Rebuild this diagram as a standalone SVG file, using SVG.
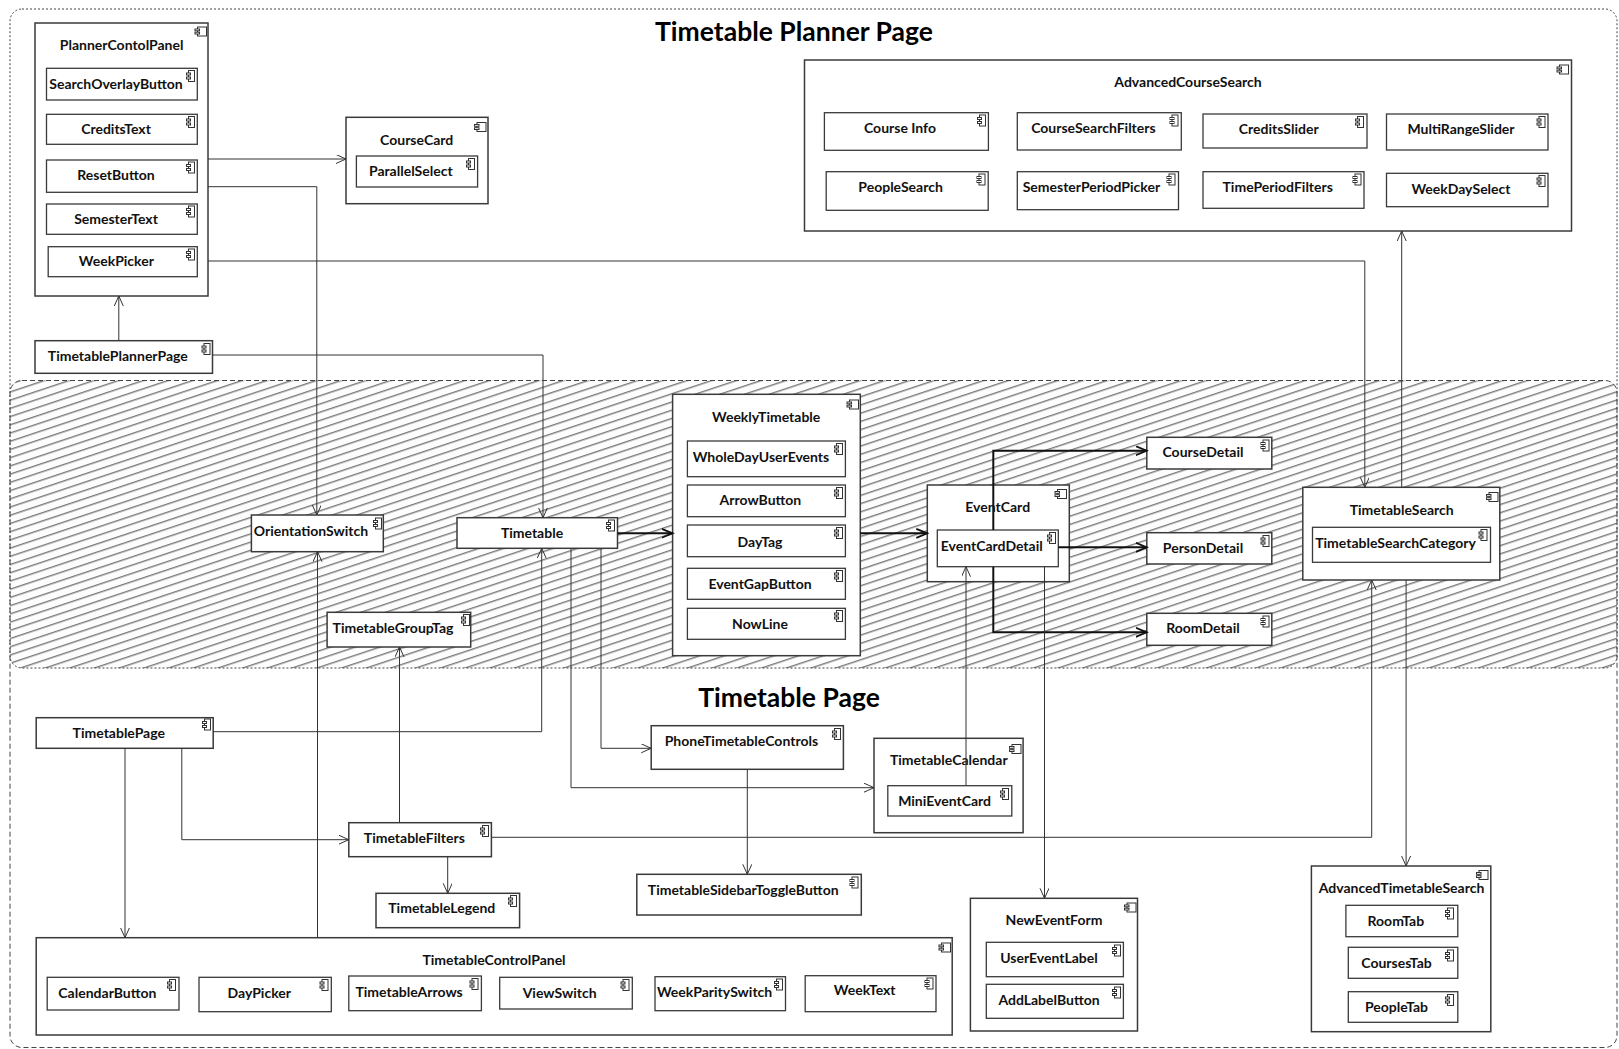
<svg xmlns="http://www.w3.org/2000/svg" width="1619" height="1049" viewBox="0 0 1619 1049">
<style>
.box{fill:#fff;stroke:#3a3a3a;stroke-width:1.5}
.sub{fill:#fff;stroke:#3a3a3a;stroke-width:1.3}
.t{font-family:Lato,"Liberation Sans",sans-serif;font-weight:700;font-size:14px;text-anchor:middle;fill:#111}
.title{font-family:Lato,"Liberation Sans",sans-serif;font-weight:700;font-size:26.5px;text-anchor:middle;fill:#000}
.c{fill:none;stroke:#333;stroke-width:1}
.ct{fill:none;stroke:#111;stroke-width:2}
.ic{fill:#fff;stroke:#333;stroke-width:1}
</style>
<defs>
<pattern id="hatch" patternUnits="userSpaceOnUse" width="10" height="7.8" patternTransform="rotate(-18.4)">
<rect x="0" y="0" width="10" height="7.8" fill="#fdfdfd"/>
<rect x="0" y="0" width="10" height="1.4" fill="#7a7a7a"/>
</pattern>
<marker id="a" markerUnits="userSpaceOnUse" markerWidth="12" markerHeight="10" refX="10" refY="4.5" orient="auto"><path d="M0,0 L10,4.5 L0,9" fill="none" stroke="#333" stroke-width="1"/></marker>
<marker id="at" markerUnits="userSpaceOnUse" markerWidth="13" markerHeight="11" refX="11" refY="5" orient="auto"><path d="M0,0.5 L11,5 L0,9.5" fill="none" stroke="#111" stroke-width="1.8"/></marker>
<g id="ci"><rect class="ic" x="2" y="0" width="6" height="11"/><rect class="ic" x="0" y="2.5" width="4" height="2"/><rect class="ic" x="0" y="6.5" width="4" height="2"/></g>
<g id="cb"><rect class="ic" x="2.5" y="0" width="9" height="9"/><rect class="ic" x="0" y="2" width="4.5" height="1.8"/><rect class="ic" x="0" y="5.2" width="4.5" height="1.8"/></g>
</defs>
<rect x="0" y="0" width="1619" height="1049" fill="#fff"/>

<g id="regions">
<rect x="10" y="380.5" width="1607" height="287.5" rx="12" fill="url(#hatch)" stroke="none"/>
<rect x="10" y="9" width="1607" height="659" rx="12" fill="none" stroke="#444" stroke-width="1" stroke-dasharray="2,2"/>
<rect x="10" y="380.5" width="1607" height="667" rx="12" fill="none" stroke="#444" stroke-width="1" stroke-dasharray="5,3"/>
<text class="title" x="794" y="40.5">Timetable Planner Page</text>
<text class="title" x="789" y="707">Timetable Page</text>
</g>

<g id="PlannerContolPanel">
<rect class="box" x="35" y="23" width="173" height="273"/>
<use href="#cb" x="195" y="27"/>
<text class="t" x="121.6" y="50">PlannerContolPanel</text>
<g id="SearchOverlayButton"><rect class="sub" x="46.5" y="68.3" width="150.8" height="31.7"/><use href="#ci" x="186.5" y="70.5"/><text class="t" x="116" y="89">SearchOverlayButton</text></g>
<g id="CreditsText"><rect class="sub" x="46.5" y="114.3" width="150.8" height="30"/><use href="#ci" x="186.5" y="116.5"/><text class="t" x="116" y="134">CreditsText</text></g>
<g id="ResetButton"><rect class="sub" x="46.5" y="160" width="150.8" height="32.3"/><use href="#ci" x="186.5" y="162"/><text class="t" x="116" y="180">ResetButton</text></g>
<g id="SemesterText"><rect class="sub" x="46.5" y="204" width="150.8" height="30.3"/><use href="#ci" x="186.5" y="206"/><text class="t" x="116" y="224">SemesterText</text></g>
<g id="WeekPicker"><rect class="sub" x="48.2" y="246.7" width="149.1" height="30"/><use href="#ci" x="186.5" y="249"/><text class="t" x="116.4" y="266">WeekPicker</text></g>
</g>

<g id="TimetablePlannerPage"><rect class="box" x="35" y="340.7" width="177.5" height="32.6"/><use href="#ci" x="202" y="343.5"/><text class="t" x="117.8" y="361">TimetablePlannerPage</text></g>

<g id="CourseCard">
<rect class="box" x="346" y="117.3" width="142" height="86.4"/>
<use href="#cb" x="474.5" y="122.5"/>
<text class="t" x="416.7" y="145">CourseCard</text>
<g id="ParallelSelect"><rect class="sub" x="356.4" y="156" width="121.2" height="31"/><use href="#ci" x="466.5" y="158.5"/><text class="t" x="410.8" y="176">ParallelSelect</text></g>
</g>

<g id="AdvancedCourseSearch">
<rect class="box" x="804.5" y="60" width="767" height="171"/>
<use href="#cb" x="1557" y="65"/>
<text class="t" x="1188" y="86.7">AdvancedCourseSearch</text>
<g id="CourseInfo"><rect class="sub" x="824.4" y="112.7" width="164" height="37.6"/><use href="#ci" x="977.5" y="115"/><text class="t" x="900" y="133.3">Course Info</text></g>
<g id="CourseSearchFilters"><rect class="sub" x="1017.3" y="112.7" width="164" height="37.3"/><use href="#ci" x="1170" y="115"/><text class="t" x="1093.4" y="133">CourseSearchFilters</text></g>
<g id="CreditsSlider"><rect class="sub" x="1203" y="114" width="164" height="34"/><use href="#ci" x="1355.5" y="116.5"/><text class="t" x="1278.7" y="133.7">CreditsSlider</text></g>
<g id="MultiRangeSlider"><rect class="sub" x="1386.5" y="114" width="161.5" height="36"/><use href="#ci" x="1537" y="116.5"/><text class="t" x="1461" y="134">MultiRangeSlider</text></g>
<g id="PeopleSearch"><rect class="sub" x="826.2" y="171.7" width="162" height="38.6"/><use href="#ci" x="977" y="174"/><text class="t" x="900.6" y="192.3">PeopleSearch</text></g>
<g id="SemesterPeriodPicker"><rect class="sub" x="1017.3" y="171.7" width="161.2" height="38"/><use href="#ci" x="1167" y="174"/><text class="t" x="1091.4" y="192.3">SemesterPeriodPicker</text></g>
<g id="TimePeriodFilters"><rect class="sub" x="1203" y="171.7" width="161" height="36.6"/><use href="#ci" x="1353" y="174"/><text class="t" x="1277.7" y="192.3">TimePeriodFilters</text></g>
<g id="WeekDaySelect"><rect class="sub" x="1386.5" y="173.3" width="161.5" height="33.4"/><use href="#ci" x="1537" y="175.5"/><text class="t" x="1461" y="193.7">WeekDaySelect</text></g>
</g>

<g id="WeeklyTimetable">
<rect class="box" x="672.6" y="394.3" width="187.7" height="261.4"/>
<use href="#cb" x="847" y="400"/>
<text class="t" x="766.2" y="422.3">WeeklyTimetable</text>
<g id="WholeDayUserEvents"><rect class="sub" x="687.4" y="441" width="158" height="35.7"/><use href="#ci" x="834.5" y="443.5"/><text class="t" x="761" y="462.3">WholeDayUserEvents</text></g>
<g id="ArrowButton"><rect class="sub" x="687.4" y="485" width="158" height="31.7"/><use href="#ci" x="834.5" y="487.5"/><text class="t" x="760.4" y="505">ArrowButton</text></g>
<g id="DayTag"><rect class="sub" x="687.4" y="525" width="158" height="31.7"/><use href="#ci" x="834.5" y="527.5"/><text class="t" x="760" y="546.7">DayTag</text></g>
<g id="EventGapButton"><rect class="sub" x="687.4" y="568.3" width="158" height="31"/><use href="#ci" x="834.5" y="570.5"/><text class="t" x="760" y="589">EventGapButton</text></g>
<g id="NowLine"><rect class="sub" x="687.4" y="608.3" width="158" height="31"/><use href="#ci" x="834.5" y="610.5"/><text class="t" x="760" y="629">NowLine</text></g>
</g>

<g id="OrientationSwitch"><rect class="box" x="251.4" y="515" width="131.9" height="36.7"/><use href="#ci" x="373.5" y="518"/><text class="t" x="311" y="536">OrientationSwitch</text></g>
<g id="Timetable"><rect class="box" x="457" y="517.7" width="160.5" height="30.6"/><use href="#ci" x="606.5" y="520"/><text class="t" x="532" y="538">Timetable</text></g>
<g id="TimetableGroupTag"><rect class="box" x="327.1" y="612.3" width="143.6" height="34.7"/><use href="#ci" x="461.5" y="614.5"/><text class="t" x="393" y="632.7">TimetableGroupTag</text></g>

<g id="EventCard">
<rect class="box" x="927.3" y="485" width="142" height="96.7"/>
<use href="#cb" x="1055" y="489.5"/>
<text class="t" x="997.7" y="512.3">EventCard</text>
<g id="EventCardDetail"><rect class="sub" x="937.3" y="530" width="121" height="36.7"/><use href="#ci" x="1047.5" y="532.5"/><text class="t" x="991.7" y="551">EventCardDetail</text></g>
</g>

<g id="CourseDetail"><rect class="box" x="1146.8" y="437.3" width="125" height="31.7"/><use href="#ci" x="1261" y="440"/><text class="t" x="1203" y="457.3">CourseDetail</text></g>
<g id="PersonDetail"><rect class="box" x="1146.8" y="532.7" width="125" height="31.3"/><use href="#ci" x="1261" y="535.5"/><text class="t" x="1203" y="553.3">PersonDetail</text></g>
<g id="RoomDetail"><rect class="box" x="1146.8" y="613.3" width="125" height="32"/><use href="#ci" x="1261" y="616"/><text class="t" x="1203" y="633.3">RoomDetail</text></g>

<g id="TimetableSearch">
<rect class="box" x="1302.8" y="487.3" width="197" height="92.7"/>
<use href="#cb" x="1486.5" y="492.5"/>
<text class="t" x="1401.7" y="515">TimetableSearch</text>
<g id="TimetableSearchCategory"><rect class="sub" x="1312.5" y="527.3" width="178" height="35"/><use href="#ci" x="1479" y="529.5"/><text class="t" x="1395.5" y="548.3">TimetableSearchCategory</text></g>
</g>

<g id="TimetablePage"><rect class="box" x="36.2" y="717.7" width="177" height="30.6"/><use href="#ci" x="202.5" y="719"/><text class="t" x="118.8" y="738.3">TimetablePage</text></g>
<g id="PhoneTimetableControls"><rect class="box" x="651.2" y="725.7" width="192.2" height="43.6"/><use href="#ci" x="832.5" y="728.5"/><text class="t" x="741.4" y="746">PhoneTimetableControls</text></g>

<g id="TimetableCalendar">
<rect class="box" x="874" y="738.3" width="149.1" height="94.4"/>
<use href="#cb" x="1009.5" y="744.5"/>
<text class="t" x="948.8" y="765">TimetableCalendar</text>
<g id="MiniEventCard"><rect class="sub" x="887.8" y="785.7" width="124" height="30.3"/><use href="#ci" x="1000.5" y="788.5"/><text class="t" x="944.6" y="806">MiniEventCard</text></g>
</g>

<g id="TimetableFilters"><rect class="box" x="348.8" y="822.7" width="142.6" height="34"/><use href="#ci" x="480.5" y="825.5"/><text class="t" x="414.3" y="843.3">TimetableFilters</text></g>
<g id="TimetableLegend"><rect class="box" x="376" y="893.3" width="143.6" height="34.4"/><use href="#ci" x="508.5" y="895.5"/><text class="t" x="441.8" y="913.3">TimetableLegend</text></g>
<g id="TimetableSidebarToggleButton"><rect class="box" x="636.8" y="874.3" width="224.5" height="40.7"/><use href="#ci" x="850" y="877"/><text class="t" x="743.2" y="895">TimetableSidebarToggleButton</text></g>

<g id="NewEventForm">
<rect class="box" x="970.4" y="898.3" width="167.1" height="132.7"/>
<use href="#cb" x="1124.5" y="903"/>
<text class="t" x="1054" y="925">NewEventForm</text>
<g id="UserEventLabel"><rect class="sub" x="986.3" y="942.3" width="137.1" height="34.4"/><use href="#ci" x="1112.5" y="945"/><text class="t" x="1049" y="963.3">UserEventLabel</text></g>
<g id="AddLabelButton"><rect class="sub" x="986.3" y="984.3" width="137.1" height="34"/><use href="#ci" x="1112.5" y="987"/><text class="t" x="1049" y="1005">AddLabelButton</text></g>
</g>

<g id="AdvancedTimetableSearch">
<rect class="box" x="1311.4" y="866" width="179.4" height="165.7"/>
<use href="#cb" x="1476.5" y="870.5"/>
<text class="t" x="1401.5" y="893.3">AdvancedTimetableSearch</text>
<g id="RoomTab"><rect class="sub" x="1345.9" y="905.3" width="111.9" height="31.4"/><use href="#ci" x="1445.5" y="908"/><text class="t" x="1395.8" y="926">RoomTab</text></g>
<g id="CoursesTab"><rect class="sub" x="1348.3" y="947.3" width="109.5" height="31"/><use href="#ci" x="1445.5" y="950"/><text class="t" x="1396.5" y="968.3">CoursesTab</text></g>
<g id="PeopleTab"><rect class="sub" x="1348.3" y="991.7" width="109.5" height="30.6"/><use href="#ci" x="1445.5" y="994.5"/><text class="t" x="1396.5" y="1012.3">PeopleTab</text></g>
</g>

<g id="TimetableControlPanel">
<rect class="box" x="36.2" y="937.7" width="916" height="97.3"/>
<use href="#cb" x="939" y="943"/>
<text class="t" x="494" y="965">TimetableControlPanel</text>
<g id="CalendarButton"><rect class="sub" x="47.2" y="977.3" width="131.8" height="32.7"/><use href="#ci" x="167.5" y="979.5"/><text class="t" x="107.4" y="998.3">CalendarButton</text></g>
<g id="DayPicker"><rect class="sub" x="199" y="977.3" width="132.3" height="34.4"/><use href="#ci" x="320" y="979.5"/><text class="t" x="259.3" y="998.3">DayPicker</text></g>
<g id="TimetableArrows"><rect class="sub" x="348.8" y="976" width="132.6" height="34.7"/><use href="#ci" x="470" y="978.5"/><text class="t" x="409.1" y="997.3">TimetableArrows</text></g>
<g id="ViewSwitch"><rect class="sub" x="499.7" y="977.3" width="132.6" height="31.7"/><use href="#ci" x="621" y="979.5"/><text class="t" x="559.6" y="998.3">ViewSwitch</text></g>
<g id="WeekParitySwitch"><rect class="sub" x="655" y="976.7" width="130.5" height="34"/><use href="#ci" x="774.5" y="979"/><text class="t" x="714.6" y="997.3">WeekParitySwitch</text></g>
<g id="WeekText"><rect class="sub" x="805.2" y="975.7" width="130.8" height="36"/><use href="#ci" x="925" y="978"/><text class="t" x="864.7" y="995">WeekText</text></g>
</g>

<g id="connectors">
<path class="c" marker-end="url(#a)" d="M118.8,340.7 V296"/>
<path class="c" marker-end="url(#a)" d="M208,159 H346"/>
<path class="c" marker-end="url(#a)" d="M208,186.7 H316.8 V515"/>
<path class="c" marker-end="url(#a)" d="M208,261 H1364.8 V487.3"/>
<path class="c" marker-end="url(#a)" d="M212.5,355 H543 V517.7"/>
<path class="ct" marker-end="url(#at)" d="M617.5,533.3 H672.6"/>
<path class="ct" marker-end="url(#at)" d="M860.3,533.3 H927.3"/>
<path class="ct" marker-end="url(#at)" d="M993.3,530 V450.7 H1146.8"/>
<path class="ct" marker-end="url(#at)" d="M1058.3,547.3 H1146.8"/>
<path class="ct" marker-end="url(#at)" d="M993.3,566.7 V632.3 H1146.8"/>
<path class="c" marker-end="url(#a)" d="M1044.5,566.7 V898.3"/>
<path class="c" marker-end="url(#a)" d="M966,785.7 V566.7"/>
<path class="c" marker-end="url(#a)" d="M1401.7,487.3 V231"/>
<path class="c" marker-end="url(#a)" d="M1406.1,580 V866"/>
<path class="c" marker-end="url(#a)" d="M491.4,837.3 H1371.7 V580"/>
<path class="c" marker-end="url(#a)" d="M213.2,731.7 H541.7 V548.3"/>
<path class="c" marker-end="url(#a)" d="M571,548.3 V787.7 H874"/>
<path class="c" marker-end="url(#a)" d="M601,548.3 V748.3 H651.2"/>
<path class="c" marker-end="url(#a)" d="M747.3,769.3 V874.3"/>
<path class="c" marker-end="url(#a)" d="M125,748.3 V937.7"/>
<path class="c" marker-end="url(#a)" d="M181.8,748.3 V839.7 H348.8"/>
<path class="c" marker-end="url(#a)" d="M317.5,937.7 V551.7"/>
<path class="c" marker-end="url(#a)" d="M399.5,822.7 V647"/>
<path class="c" marker-end="url(#a)" d="M447.7,856.7 V893.3"/>
</g>
</svg>
